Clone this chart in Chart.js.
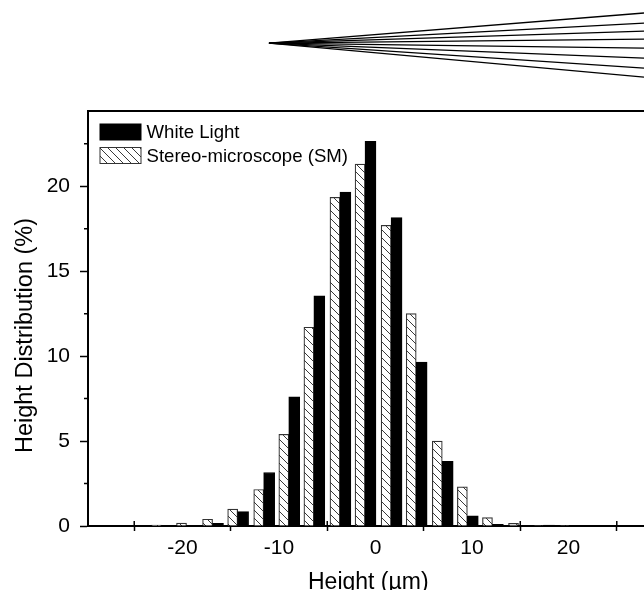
<!DOCTYPE html>
<html>
<head>
<meta charset="utf-8">
<title>Height Distribution</title>
<style>
  html, body { margin: 0; padding: 0; background: #fff; }
  canvas { display: block; }
</style>
<script src="https://cdn.jsdelivr.net/npm/chart.js@4"></script>
</head>
<body>
<canvas id="myChart" width="644" height="590"></canvas>
<script>
// Values
const binX = [-22.2, -19.6, -16.9, -14.3, -11.6, -9.0, -6.4, -3.7, -1.1, 1.6, 4.2, 6.9, 9.5, 12.1, 14.8, 17.4, 20.1];
const smValues = [0.05, 0.17, 0.4, 1.0, 2.15, 5.4, 11.7, 19.35, 21.3, 17.7, 12.5, 5.0, 2.3, 0.5, 0.15, 0.03, 0.03];
const whiteValues = [0, 0.03, 0.15, 0.85, 3.15, 7.6, 13.55, 19.65, 22.65, 18.15, 9.65, 3.8, 0.6, 0.1, 0.03, 0.05, 0];
const xTicks = [-25, -20, -15, -10, -5, 0, 5, 10, 15, 20, 25];
const xLabelled = [-20, -10, 0, 10, 20];
const yTicks = [0, 5, 10, 15, 20];
const yMinorTicks = [2.5, 7.5, 12.5, 17.5, 22.5];

// The fan of lines above the plot, in the same axis units
const fanApex = { x: -11.04, y: 28.43 };
const fanEndX = 27.82;
const fanEndY = [30.2, 29.6, 29.13, 28.66, 28.13, 27.54, 26.95, 26.42];

const xMin = -29.79, xMax = 27.82, yMax = 24.43;
const FONT = "Liberation Sans";

// hatch for the stereo-microscope bars
function hatchPattern() {
  const c = document.createElement("canvas");
  c.width = 8;
  c.height = 8;
  const g = c.getContext("2d");
  g.fillStyle = "#fff";
  g.fillRect(0, 0, 8, 8);
  g.strokeStyle = "#222";
  g.lineWidth = 0.9;
  g.beginPath();
  g.moveTo(-1, -1);
  g.lineTo(9, 9);
  g.stroke();
  return g.createPattern(c, "repeat");
}

// inner ticks, minor y ticks and the top edge of the frame
const frameExtras = {
  id: "frameExtras",
  beforeDatasetsDraw(chart) {
    const g = chart.ctx, a = chart.chartArea, xs = chart.scales.x, ys = chart.scales.y;
    g.save();
    g.strokeStyle = "#000";
    g.lineWidth = 1.5;
    g.beginPath();
    xTicks.filter(t => !xLabelled.includes(t)).forEach(t => {
      const px = xs.getPixelForValue(t);
      g.moveTo(px, a.bottom);
      g.lineTo(px, a.bottom - 5);
    });
    yMinorTicks.forEach(t => {
      const py = ys.getPixelForValue(t);
      g.moveTo(a.left, py);
      g.lineTo(a.left - 4, py);
    });
    g.stroke();
    g.lineWidth = 2;
    g.beginPath();
    g.moveTo(a.left - 1, a.top);
    g.lineTo(a.right, a.top);
    g.stroke();
    g.restore();
  }
};

// legend and axis titles sit off the library's default spots, so they go here
const labelsAndTitles = {
  id: "labelsAndTitles",
  afterDatasetsDraw(chart) {
    const g = chart.ctx;
    g.save();
    g.fillStyle = "#000";
    g.textBaseline = "alphabetic";
    chart.data.datasets.filter(d => d.label).forEach((d, i) => {
      const top = 124 + i * 23.5;
      g.fillStyle = d.backgroundColor;
      g.fillRect(100, top, 41, 16);
      g.strokeStyle = d.borderColor;
      g.lineWidth = 1;
      g.strokeRect(100, top, 41, 16);
      g.fillStyle = "#000";
      g.font = "18.6px '" + FONT + "'";
      g.fillText(d.label, 146.5, top + 14);
    });
    g.font = "23px '" + FONT + "'";
    g.fillText("Height (µm)", 308, 589);
    g.font = "23.5px '" + FONT + "'";
    g.translate(32, 335.5);
    g.rotate(-Math.PI / 2);
    g.textAlign = "center";
    g.fillText("Height Distribution (%)", 0, 0);
    g.restore();
  }
};

const fanSets = fanEndY.map(y => ({
  type: "line",
  data: [fanApex, { x: fanEndX, y: y }],
  borderColor: "#000",
  borderWidth: 1.3,
  pointRadius: 0,
  clip: false,
  order: 5
}));

new Chart(document.getElementById("myChart"), {
  type: "bar",
  data: {
    datasets: [
      {
        label: "White Light",
        data: binX.map((x, i) => ({ x: x + 0.58, y: whiteValues[i] })),
        backgroundColor: "#000",
        borderColor: "#000",
        borderWidth: 1,
        barThickness: 11,
        grouped: false,
        order: 1
      },
      {
        label: "Stereo-microscope (SM)",
        data: binX.map((x, i) => ({ x: x - 0.5, y: smValues[i] })),
        backgroundColor: hatchPattern(),
        borderColor: "#333",
        borderWidth: 1.2,
        barThickness: 10,
        grouped: false,
        order: 2
      }
    ].concat(fanSets)
  },
  plugins: [frameExtras, labelsAndTitles],
  options: {
    responsive: false,
    animation: false,
    layout: { padding: { top: 111 } },
    plugins: {
      tooltip: { enabled: false },
      legend: { display: false }
    },
    scales: {
      x: {
        type: "linear",
        offset: false,
        min: xMin,
        max: xMax,
        afterFit: s => { s.height = 64; },
        afterBuildTicks: s => { s.ticks = xTicks.map(v => ({ value: v })); },
        border: { color: "#000", width: 2 },
        grid: {
          drawOnChartArea: false,
          offset: false,
          tickLength: 5,
          tickWidth: 1.5,
          tickColor: c => xLabelled.includes(c.tick.value) ? "rgba(0,0,0,0)" : "#000"
        },
        ticks: {
          autoSkip: false,
          maxRotation: 0,
          color: "#000",
          padding: 5,
          font: { family: FONT, size: 21 },
          callback: v => xLabelled.includes(v) ? String(v) : ""
        }
      },
      y: {
        min: 0,
        max: yMax,
        afterFit: s => { s.width = 88; },
        afterBuildTicks: s => { s.ticks = yTicks.map(v => ({ value: v })); },
        border: { color: "#000", width: 2 },
        grid: { drawOnChartArea: false, tickLength: 8, tickWidth: 1.5, tickColor: "#000" },
        ticks: {
          color: "#000",
          padding: 10,
          font: { family: FONT, size: 21 }
        }
      }
    }
  }
});
</script>
</body>
</html>
